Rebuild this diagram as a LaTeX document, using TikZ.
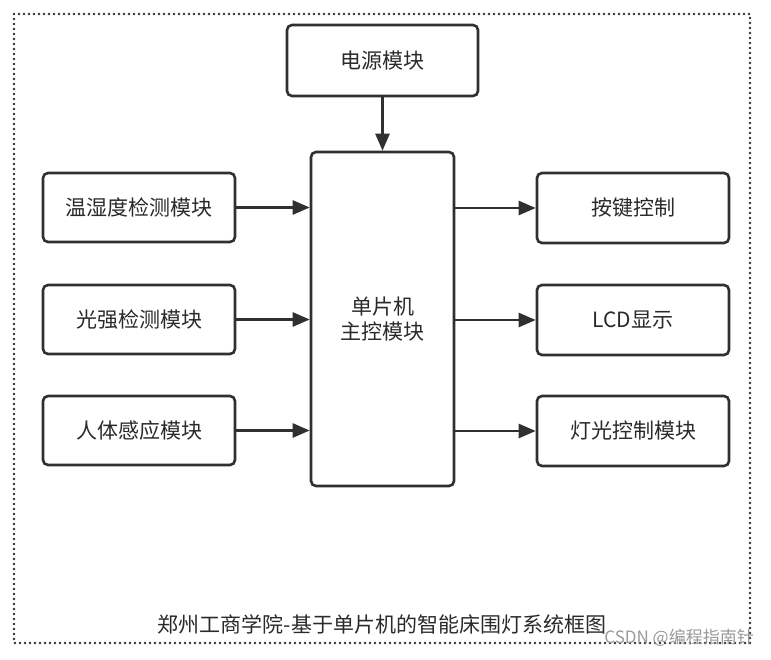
\documentclass[tikz,border=0pt]{standalone}
\usepackage{fontspec}
\newfontfamily\cjk{Noto Sans CJK SC}
\usetikzlibrary{arrows.meta}
\definecolor{ln}{HTML}{303030}
\definecolor{tx}{HTML}{2a2a2a}
\tikzset{
  box/.style={draw=ln, line width=2.6pt, rounded corners=5pt, fill=white, inner sep=0pt, font=\cjk\fontsize{21}{25}\selectfont, text=tx},
  conn/.style={draw=ln, line width=2.6pt, -{Triangle[length=17pt,width=14pt]}},
}
\begin{document}
\begin{tikzpicture}[x=1pt,y=-1pt]
\useasboundingbox (0,0) rectangle (771,659);
\draw[ln, line width=2.6pt, dash pattern=on 0pt off 5pt, line cap=round] (14,14) rectangle (750,643);
\node[box, minimum width=191pt, minimum height=71pt] (pw) at (382.5,60.5) {电源模块};
\node[box, minimum width=143pt, minimum height=334pt, align=center] (mcu) at (382.5,319) {单片机\\主控模块};
\node[box, minimum width=192pt, minimum height=69pt] (l1) at (139,207.5) {温湿度检测模块};
\node[box, minimum width=192pt, minimum height=69pt] (l2) at (139,319.5) {光强检测模块};
\node[box, minimum width=192pt, minimum height=69pt] (l3) at (139,430.5) {人体感应模块};
\node[box, minimum width=192pt, minimum height=70pt] (r1) at (633,208) {按键控制};
\node[box, minimum width=192pt, minimum height=70pt] (r2) at (633,320) {LCD显示};
\node[box, minimum width=192pt, minimum height=70pt] (r3) at (633,431) {灯光控制模块};
\draw[conn] (pw) -- (mcu);
\draw[conn] (l1.east) -- (l1.east -| mcu.west);
\draw[conn] (l2.east) -- (l2.east -| mcu.west);
\draw[conn] (l3.east) -- (l3.east -| mcu.west);
\draw[conn] (r1.west -| mcu.east) -- (r1.west);
\draw[conn] (r2.west -| mcu.east) -- (r2.west);
\draw[conn] (r3.west -| mcu.east) -- (r3.west);
\node[font=\cjk\fontsize{21}{25}\selectfont, text=tx, inner sep=0pt] (title) at (382,624) {郑州工商学院-基于单片机的智能床围灯系统框图};
\node[font=\cjk\fontsize{17}{20}\selectfont, text=black!40, inner sep=0pt, anchor=east] (wm) at (754,638) {CSDN @编程指南针};
\end{tikzpicture}
\end{document}
